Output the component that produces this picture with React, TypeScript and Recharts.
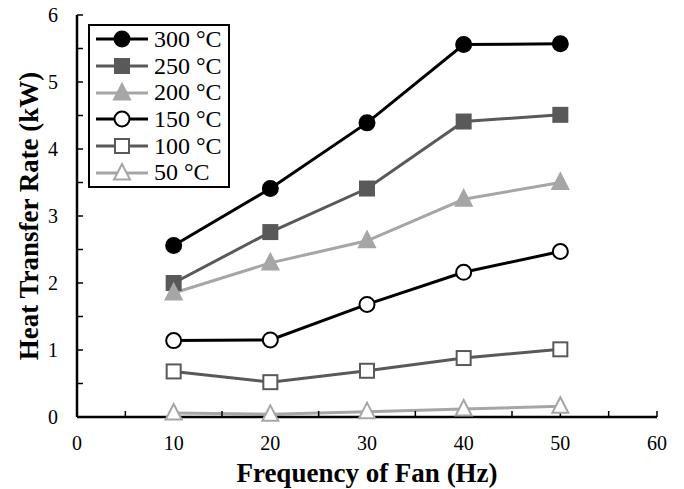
import React from "react";
import { LineChart, Line, XAxis, YAxis, Legend } from "recharts";

const freqs = [10, 20, 30, 40, 50];
const t300 = [2.56, 3.41, 4.39, 5.56, 5.57];
const t250 = [2.0, 2.76, 3.41, 4.41, 4.51];
const t200 = [1.85, 2.3, 2.63, 3.25, 3.5];
const t150 = [1.14, 1.15, 1.68, 2.16, 2.47];
const t100 = [0.68, 0.52, 0.69, 0.88, 1.01];
const t50 = [0.06, 0.04, 0.08, 0.12, 0.16];

const xTicks = [0, 5, 10, 15, 20, 25, 30, 35, 40, 45, 50, 55, 60];
const yTicks = [0, 0.5, 1, 1.5, 2, 2.5, 3, 3.5, 4, 4.5, 5, 5.5, 6];

const series = [
  { key: "t300", name: "300 °C", values: t300, color: "#000000", shape: "circle", filled: true },
  { key: "t250", name: "250 °C", values: t250, color: "#595959", shape: "square", filled: true },
  { key: "t200", name: "200 °C", values: t200, color: "#a6a6a6", shape: "triangle", filled: true },
  { key: "t150", name: "150 °C", values: t150, color: "#000000", shape: "circle", filled: false },
  { key: "t100", name: "100 °C", values: t100, color: "#595959", shape: "square", filled: false },
  { key: "t50", name: "50 °C", values: t50, color: "#a6a6a6", shape: "triangle", filled: false },
];

const data = freqs.map((f, i) => {
  const row: Record<string, number> = { freq: f };
  series.forEach((s) => (row[s.key] = s.values[i]));
  return row;
});

const FONT = '"Liberation Serif", serif';

function Marker({ cx, cy, shape, color, filled }: any) {
  const fill = filled ? color : "#ffffff";
  if (shape === "circle") {
    return <circle cx={cx} cy={cy} r={7.5} fill={fill} stroke={color} strokeWidth={2} />;
  }
  if (shape === "square") {
    return <rect x={cx - 7} y={cy - 7} width={14} height={14} fill={fill} stroke={color} strokeWidth={2} />;
  }
  const h = 8;
  return (
    <polygon
      points={`${cx},${cy - h - 1} ${cx - h},${cy + h - 1.5} ${cx + h},${cy + h - 1.5}`}
      fill={fill}
      stroke={color}
      strokeWidth={2}
    />
  );
}

function LegendBox() {
  return (
    <div
      style={{
        border: "2px solid #000",
        background: "#fff",
        padding: "0 6px",
        fontFamily: FONT,
        fontSize: 24,
        lineHeight: "26.7px",
      }}
    >
      {series.map((s) => (
        <div key={s.key} style={{ display: "flex", alignItems: "center", height: 26.7 }}>
          <svg width={52} height={22} style={{ marginRight: 6 }}>
            <line x1={0} y1={11} x2={52} y2={11} stroke={s.color} strokeWidth={3} />
            <Marker cx={26} cy={11} shape={s.shape} color={s.color} filled={s.filled} />
          </svg>
          <span>{s.name}</span>
        </div>
      ))}
    </div>
  );
}

export default function App() {
  const tickStyle = { fontSize: 20, fontFamily: FONT, fill: "#000" };
  const axisLine = { stroke: "#000", strokeWidth: 2.5 };
  const tickLine = { stroke: "#000", strokeWidth: 1.5 };
  return (
    <div style={{ position: "absolute", left: 0, top: 0, fontFamily: FONT }}>
      <LineChart
        width={684}
        height={489}
        data={data}
        margin={{ top: 15, right: 27, bottom: 0, left: 0 }}
        style={{ fontFamily: FONT }}
      >
        <XAxis
          dataKey="freq"
          type="number"
          domain={[0, 60]}
          ticks={xTicks}
          interval={0}
          height={72}
          tickSize={-6}
          tickMargin={25}
          tickFormatter={(v: number) => (v % 10 === 0 ? String(v) : "")}
          tick={tickStyle}
          axisLine={axisLine}
          tickLine={tickLine}
          label={{
            value: "Frequency of Fan (Hz)",
            position: "insideBottom",
            offset: 7,
            style: { fontSize: 27, fontWeight: "bold", fontFamily: FONT, fill: "#000" },
          }}
        />
        <XAxis
          xAxisId="top"
          orientation="top"
          dataKey="freq"
          type="number"
          domain={[0, 60]}
          ticks={xTicks}
          interval={0}
          height={0}
          tickSize={-6}
          tick={false}
          axisLine={axisLine}
          tickLine={tickLine}
        />
        <YAxis
          type="number"
          domain={[0, 6]}
          ticks={yTicks}
          interval={0}
          width={77}
          tickSize={-6}
          tickMargin={25}
          tickFormatter={(v: number) => (Number.isInteger(v) ? String(v) : "")}
          tick={tickStyle}
          axisLine={axisLine}
          tickLine={tickLine}
          label={{
            value: "Heat Transfer Rate (kW)",
            angle: -90,
            position: "center",
            dx: -10,
            style: { fontSize: 27, fontWeight: "bold", fontFamily: FONT, fill: "#000", textAnchor: "middle" },
          }}
        />
        <YAxis
          yAxisId="right"
          orientation="right"
          type="number"
          domain={[0, 6]}
          ticks={yTicks}
          interval={0}
          width={0}
          tickSize={-6}
          tick={false}
          axisLine={axisLine}
          tickLine={tickLine}
        />
        <Legend
          layout="vertical"
          align="center"
          verticalAlign="middle"
          wrapperStyle={{ left: 88, top: 24, width: "auto" }}
          content={() => <LegendBox />}
        />
        {series.map((s) => (
          <Line
            key={s.key}
            dataKey={s.key}
            name={s.name}
            stroke={s.color}
            strokeWidth={3}
            isAnimationActive={false}
            dot={(p: any) => (
              <Marker key={`${s.key}-${p.index}`} cx={p.cx} cy={p.cy} shape={s.shape} color={s.color} filled={s.filled} />
            )}
            activeDot={false}
          />
        ))}
      </LineChart>
    </div>
  );
}
